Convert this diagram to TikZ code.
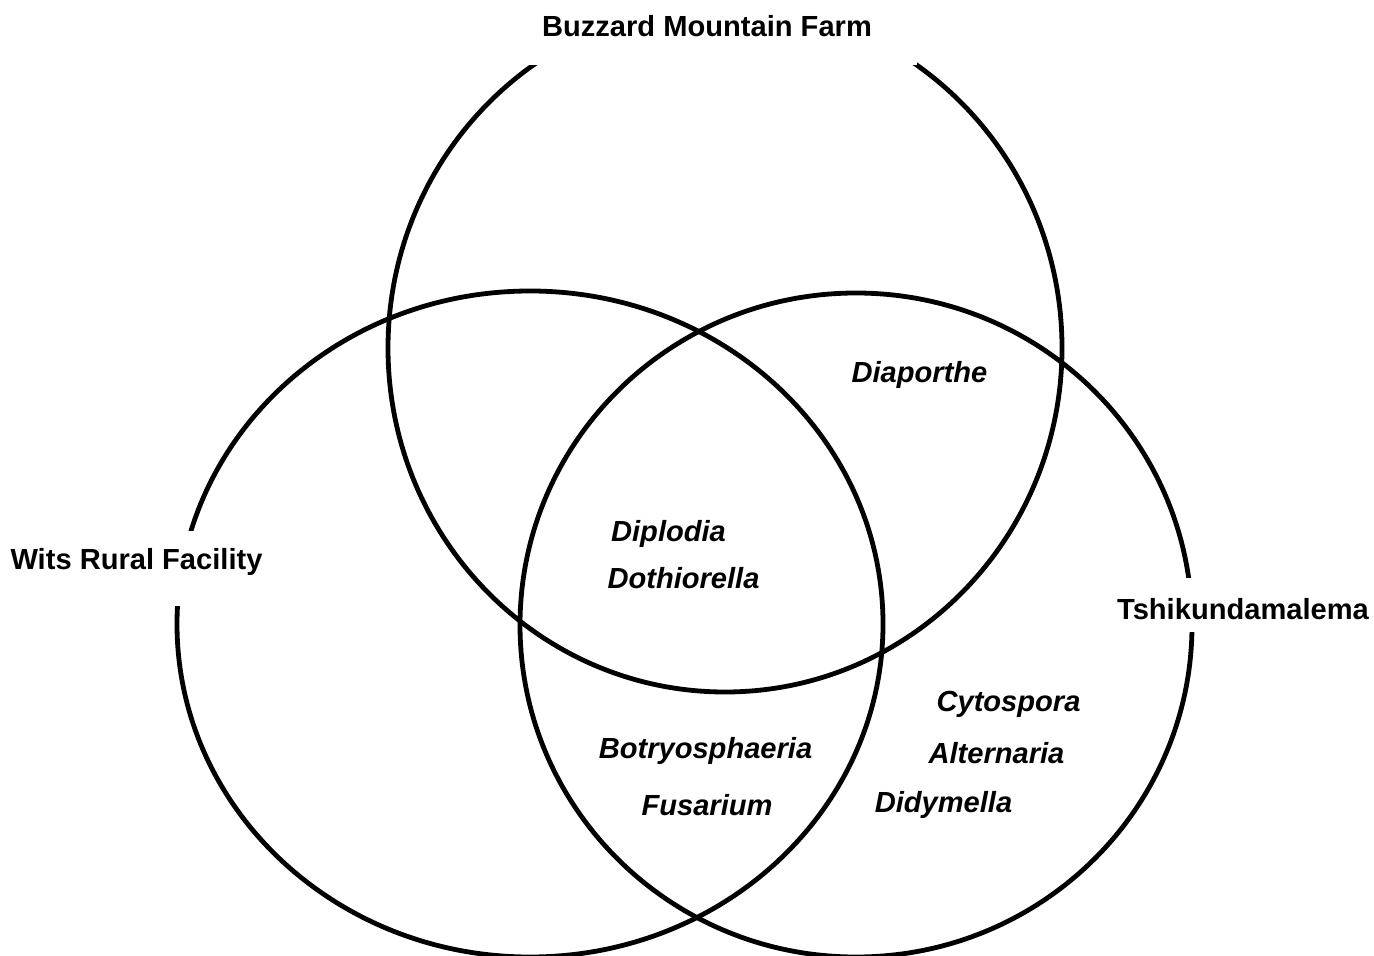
\documentclass[tikz,border=0pt]{standalone}
\usepackage{fontspec}
\setmainfont{Liberation Sans}

\begin{document}
\begin{tikzpicture}[line cap=round,line join=round,x=0.5pt,y=-0.5pt,
  ring/.style={line width=2.4pt},
  site/.style={font=\fontsize{14.55}{17}\selectfont\bfseries,fill=white,inner sep=0pt,anchor=base},
  genus/.style={font=\fontsize{14.55}{17}\selectfont\bfseries\itshape,inner sep=0pt,anchor=base}]
\clip (0,0) rectangle (1374,956);
% the three sites
\draw [ring] (725,348) ellipse [x radius=337, y radius=344];
\draw [ring] (530,624) ellipse [x radius=353, y radius=333];
\draw [ring] (856,625) ellipse [x radius=336, y radius=332];
% site labels, cut into the rings
\node [site, minimum width=210pt, text height=18.5pt, text depth=14pt] (bmf) at (707,37) {Buzzard Mountain Farm};
\node [site, text height=19pt, text depth=18.5pt] (wrf) at (136.5,569) {Wits Rural Facility};
\node [site, text height=20.5pt, text depth=6.5pt] (tsh) at (1243,619) {Tshikundamalema};
% genera
\node [genus] (diap) at (919.5,383) {Diaporthe};
\node [genus] (dipl) at (668.5,541) {Diplodia};
\node [genus] (doth) at (683.5,588) {Dothiorella};
\node [genus] (botr) at (705.5,758) {Botryosphaeria};
\node [genus] (fusa) at (707,815) {Fusarium};
\node [genus] (cyto) at (1008.5,711) {Cytospora};
\node [genus] (alte) at (996.5,763) {Alternaria};
\node [genus] (didy) at (943.5,812) {Didymella};
\end{tikzpicture}
\end{document}
